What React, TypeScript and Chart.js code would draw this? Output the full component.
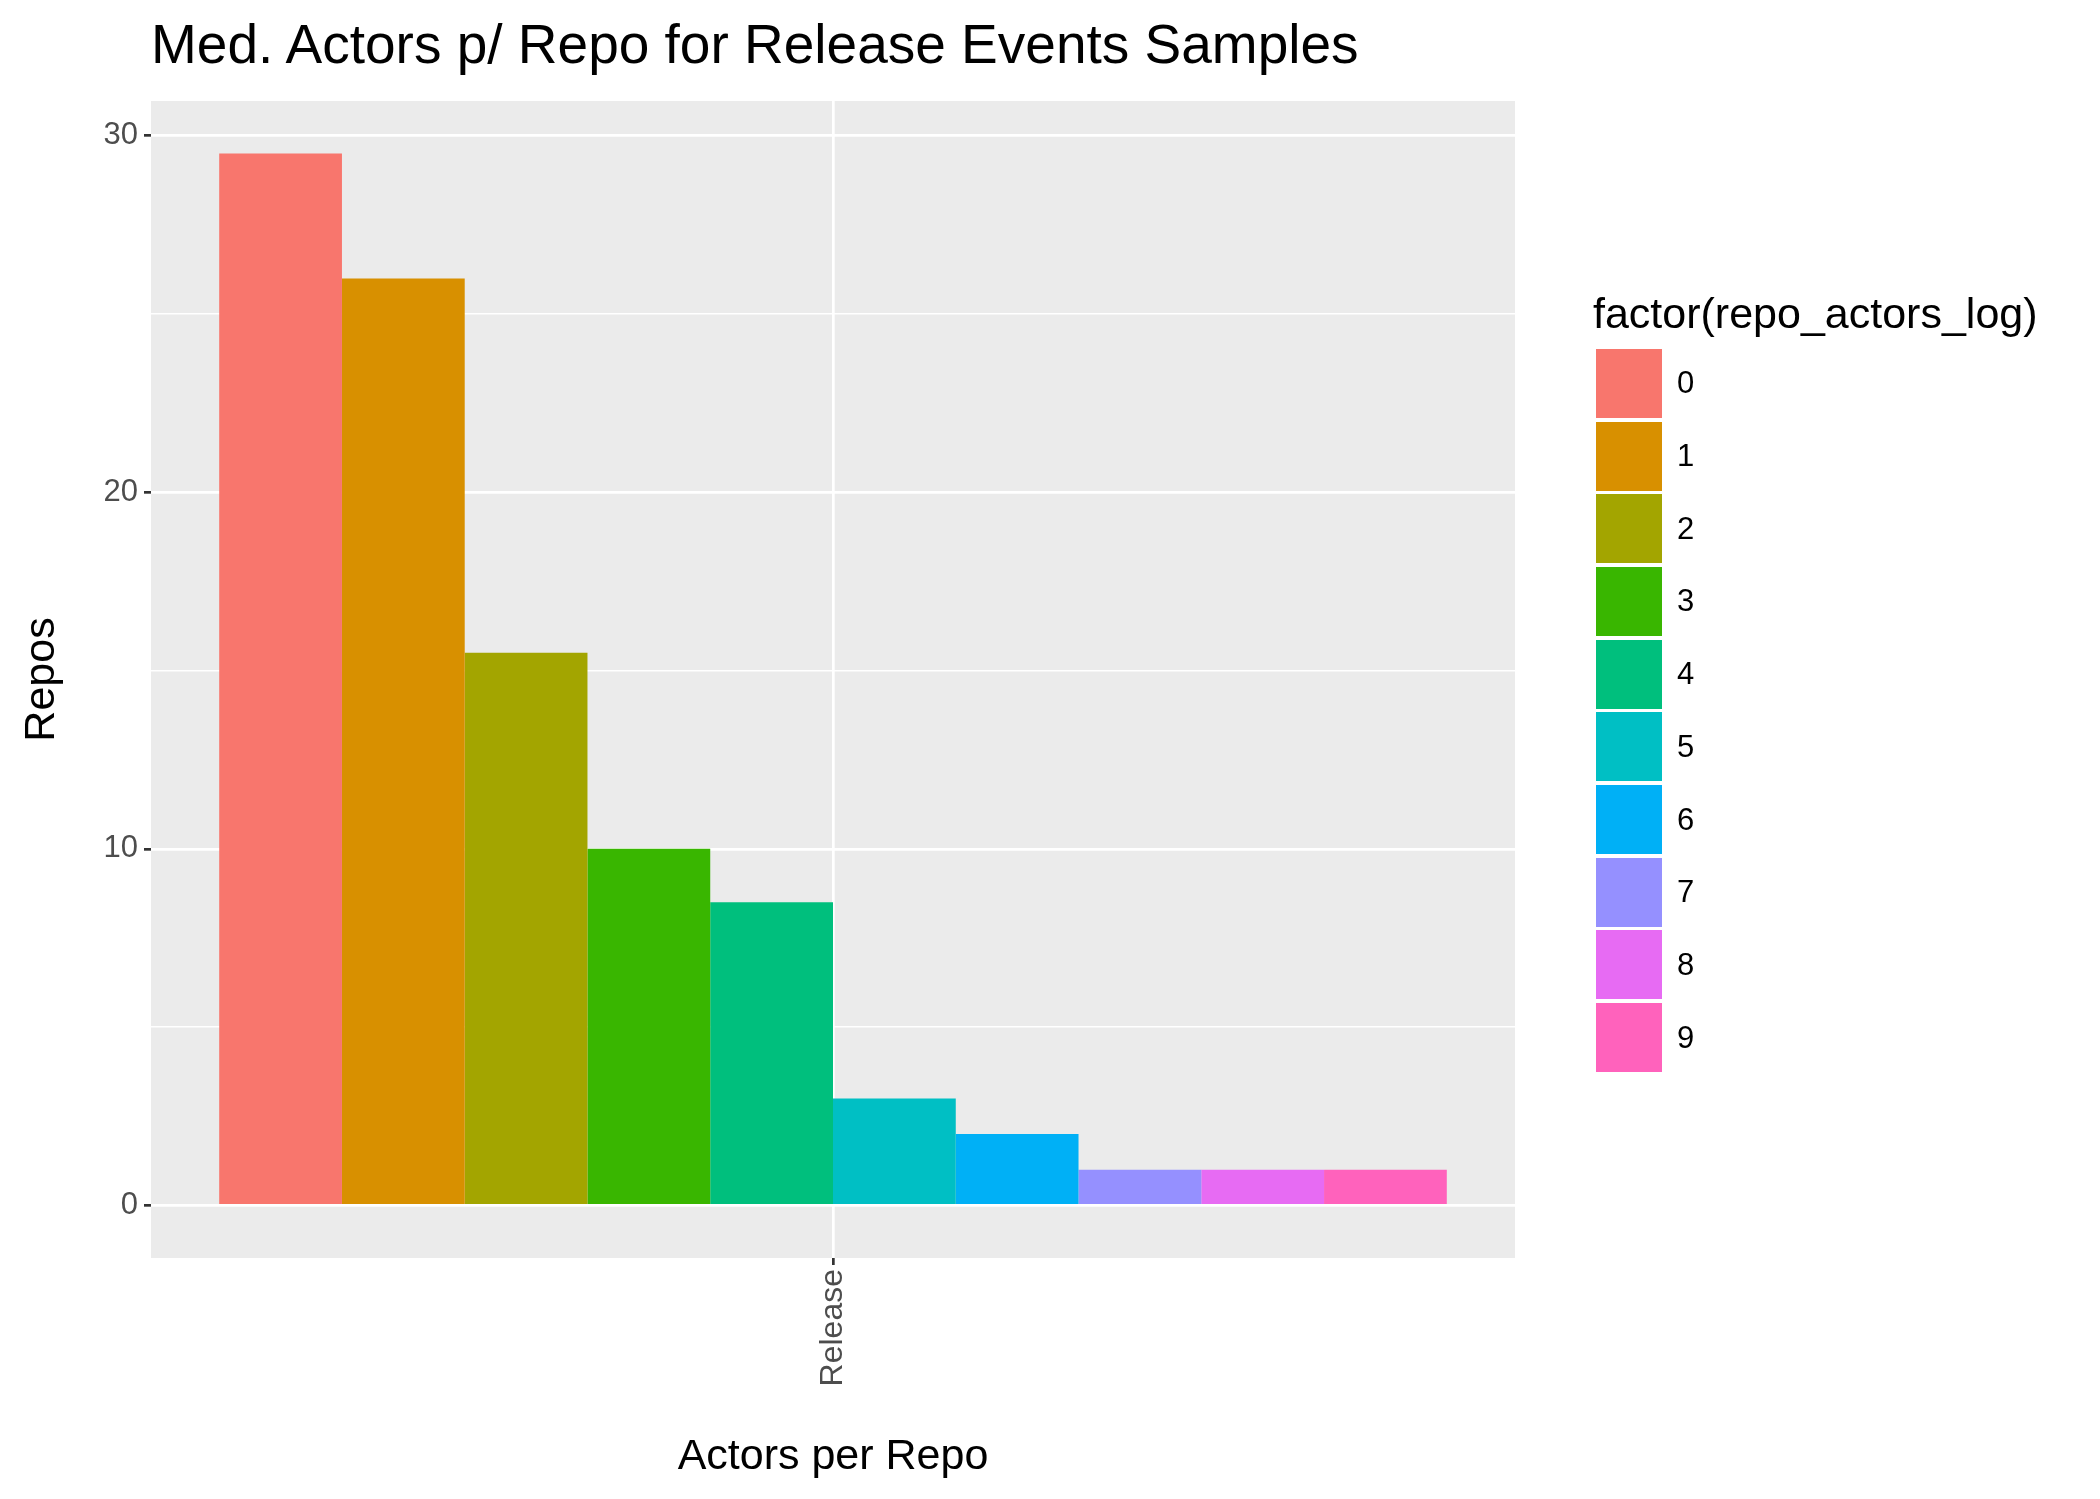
import { useEffect, useRef } from "react";
import { Chart, registerables } from "chart.js";

Chart.register(...registerables);

const categories = ["Release"];
const levels = ["0", "1", "2", "3", "4", "5", "6", "7", "8", "9"];
const repoValues = [29.5, 26, 15.5, 10, 8.5, 3, 2, 1, 1, 1];
const colors = ["#F8766D", "#D89000", "#A3A500", "#39B600", "#00BF7D", "#00BFC4", "#00B0F6", "#9590FF", "#E76BF3", "#FF62BC"];
const yTicks = [0, 5, 10, 15, 20, 25, 30];

const FONT = "'Liberation Sans', Arial, sans-serif";

const panelBg = {
  id: "panelBg",
  beforeDraw(chart: Chart) {
    const { ctx, chartArea: a } = chart;
    ctx.save();
    ctx.fillStyle = "#EBEBEB";
    ctx.fillRect(a.left, a.top, a.right - a.left, a.bottom - a.top);
    ctx.restore();
  },
};

export default function App() {
  const canvasRef = useRef<HTMLCanvasElement>(null);

  useEffect(() => {
    if (!canvasRef.current) return;
    const chart = new Chart(canvasRef.current, {
      type: "bar",
      data: {
        labels: categories,
        datasets: levels.map((lv, i) => ({
          label: lv,
          data: [repoValues[i]],
          backgroundColor: colors[i],
          borderWidth: 0,
          categoryPercentage: 0.9,
          barPercentage: 1,
        })),
      },
      plugins: [panelBg],
      options: {
        responsive: false,
        animation: false,
        events: [],
        layout: { padding: { top: 101, right: 585, bottom: 0, left: 0 } },
        plugins: { legend: { display: false }, tooltip: { enabled: false }, title: { display: false } },
        scales: {
          x: {
            offset: true,
            border: { display: false },
            grid: { offset: false, color: "#FFFFFF", lineWidth: 2.7, tickColor: "#333333", tickLength: 7 },
            ticks: { color: "#4D4D4D", font: { family: FONT, size: 32 }, minRotation: 90, maxRotation: 90, padding: 4 },
            title: { display: true, text: "Actors per Repo", color: "#000", font: { family: FONT, size: 43 }, padding: { top: 0, bottom: 16 } },
            afterFit(scale: any) { scale.height = 241; },
          },
          y: {
            min: -1.475,
            max: 30.975,
            border: { display: false },
            afterBuildTicks(scale: any) { scale.ticks = yTicks.map((v) => ({ value: v })); },
            grid: {
              color: "#FFFFFF",
              lineWidth: (c: any) => (c.tick && c.tick.value % 10 === 0 ? 2.7 : 1.4),
              tickColor: (c: any) => (c.tick && c.tick.value % 10 === 0 ? "#333333" : "rgba(0,0,0,0)"),
              tickLength: 7,
            },
            ticks: {
              color: "#4D4D4D",
              font: { family: FONT, size: 31 },
              padding: 6,
              callback: (v: any) => (Number(v) % 10 === 0 ? String(v) : ""),
            },
            title: { display: true, text: "Repos", color: "#000", font: { family: FONT, size: 43 }, padding: { top: 16, bottom: 20 } },
            afterFit(scale: any) { scale.width = 151; },
          },
        },
      },
    });
    return () => chart.destroy();
  }, []);

  return (
    <div style={{ position: "absolute", left: 0, top: 0, width: 2100, height: 1499, background: "#fff", fontFamily: FONT }}>
      <canvas ref={canvasRef} width={2100} height={1499} style={{ position: "absolute", left: 0, top: 0 }} />
      <div style={{ position: "absolute", left: 151, top: 12, fontSize: 55, color: "#000", whiteSpace: "nowrap" }}>
        Med. Actors p/ Repo for Release Events Samples
      </div>
      <div style={{ position: "absolute", left: 1593, top: 289, fontSize: 43, color: "#000", whiteSpace: "nowrap" }}>
        factor(repo_actors_log)
      </div>
      {levels.map((lv, i) => (
        <div key={lv} style={{ position: "absolute", left: 1596, top: 347 + i * 72.7, height: 72.7, display: "flex", alignItems: "center" }}>
          <div style={{ width: 66, height: 69, background: colors[i] }} />
          <span style={{ marginLeft: 15, fontSize: 31, color: "#000" }}>{lv}</span>
        </div>
      ))}
    </div>
  );
}
